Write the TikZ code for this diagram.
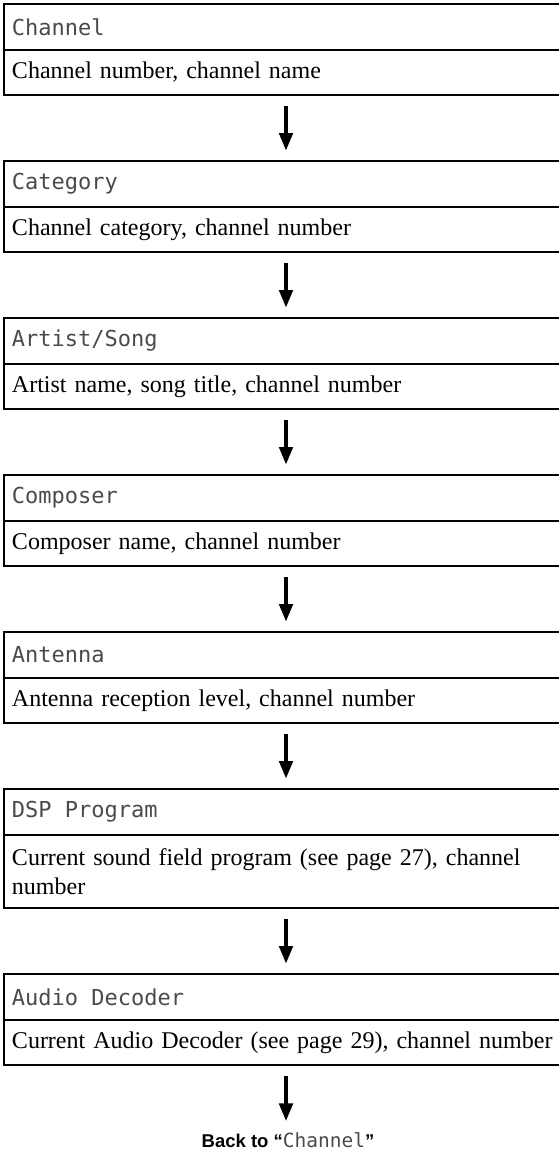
\documentclass[tikz,border=0pt]{standalone}
\usepackage{fontspec}
\setmainfont{Liberation Serif}
\setsansfont{Liberation Sans}
\setmonofont{DejaVu Sans Mono}
\usetikzlibrary{arrows.meta, positioning}
\definecolor{clcd}{HTML}{4A4A4A}
\newcommand\lcdsp{\hspace{0.602em}}
\tikzset{
  every picture/.style={x=1pt, y=1pt, line width=2.6pt},
  head/.style={draw, outer sep=0pt, minimum width=556pt, minimum height=46pt, text width=548pt, inner xsep=8pt, inner ysep=0pt, align=left, font=\ttfamily\fontsize{22}{26}\selectfont, text=clcd},
  body/.style={draw, outer sep=0pt, minimum width=556pt, minimum height=45pt, text width=548pt, inner xsep=8pt, inner ysep=0pt, align=left, font=\fontsize{24}{29}\selectfont},
  arrow/.style={-{Triangle[length=18pt, width=13pt]}, line width=4.8pt, shorten <=11pt, shorten >=10pt},
  back/.style={font=\sffamily\bfseries\fontsize{18.5}{21}\selectfont},
}

\begin{document}
\begin{tikzpicture}
  \useasboundingbox (0,0) rectangle (558,-1151);
  \node[head, anchor=north west] (h1) at (4,-4) {Channel};
  \node[body, below=0pt of h1] (b1) {Channel number, channel name};
  \node[head, below=66pt of b1] (h2) {Category};
  \node[body, below=0pt of h2] (b2) {Channel category, channel number};
  \node[head, below=66pt of b2] (h3) {Artist/Song};
  \node[body, below=0pt of h3] (b3) {Artist name, song title, channel number};
  \node[head, below=66pt of b3] (h4) {Composer};
  \node[body, below=0pt of h4] (b4) {Composer name, channel number};
  \node[head, below=66pt of b4] (h5) {Antenna};
  \node[body, below=0pt of h5] (b5) {Antenna reception level, channel number};
  \node[head, below=66pt of b5] (h6) {DSP\lcdsp Program};
  \node[body, below=0pt of h6, minimum height=73pt] (b6) {Current sound field program (see page 27), channel\\number};
  \node[head, below=66pt of b6] (h7) {Audio\lcdsp Decoder};
  \node[body, below=0pt of h7] (b7) {Current Audio Decoder (see page 29), channel number};
  \node[back, anchor=base] (back) at (288,-1147) {Back to ``{\mdseries\ttfamily\fontsize{19.5}{22}\selectfont\color{clcd}Channel}''};
  \foreach \i/\j in {1/2, 2/3, 3/4, 4/5, 5/6, 6/7} \draw[arrow] (b\i) -- (h\j);
  \draw[arrow, shorten >=6pt] (b7) -- (back.north -| b7.south);
\end{tikzpicture}
\end{document}
